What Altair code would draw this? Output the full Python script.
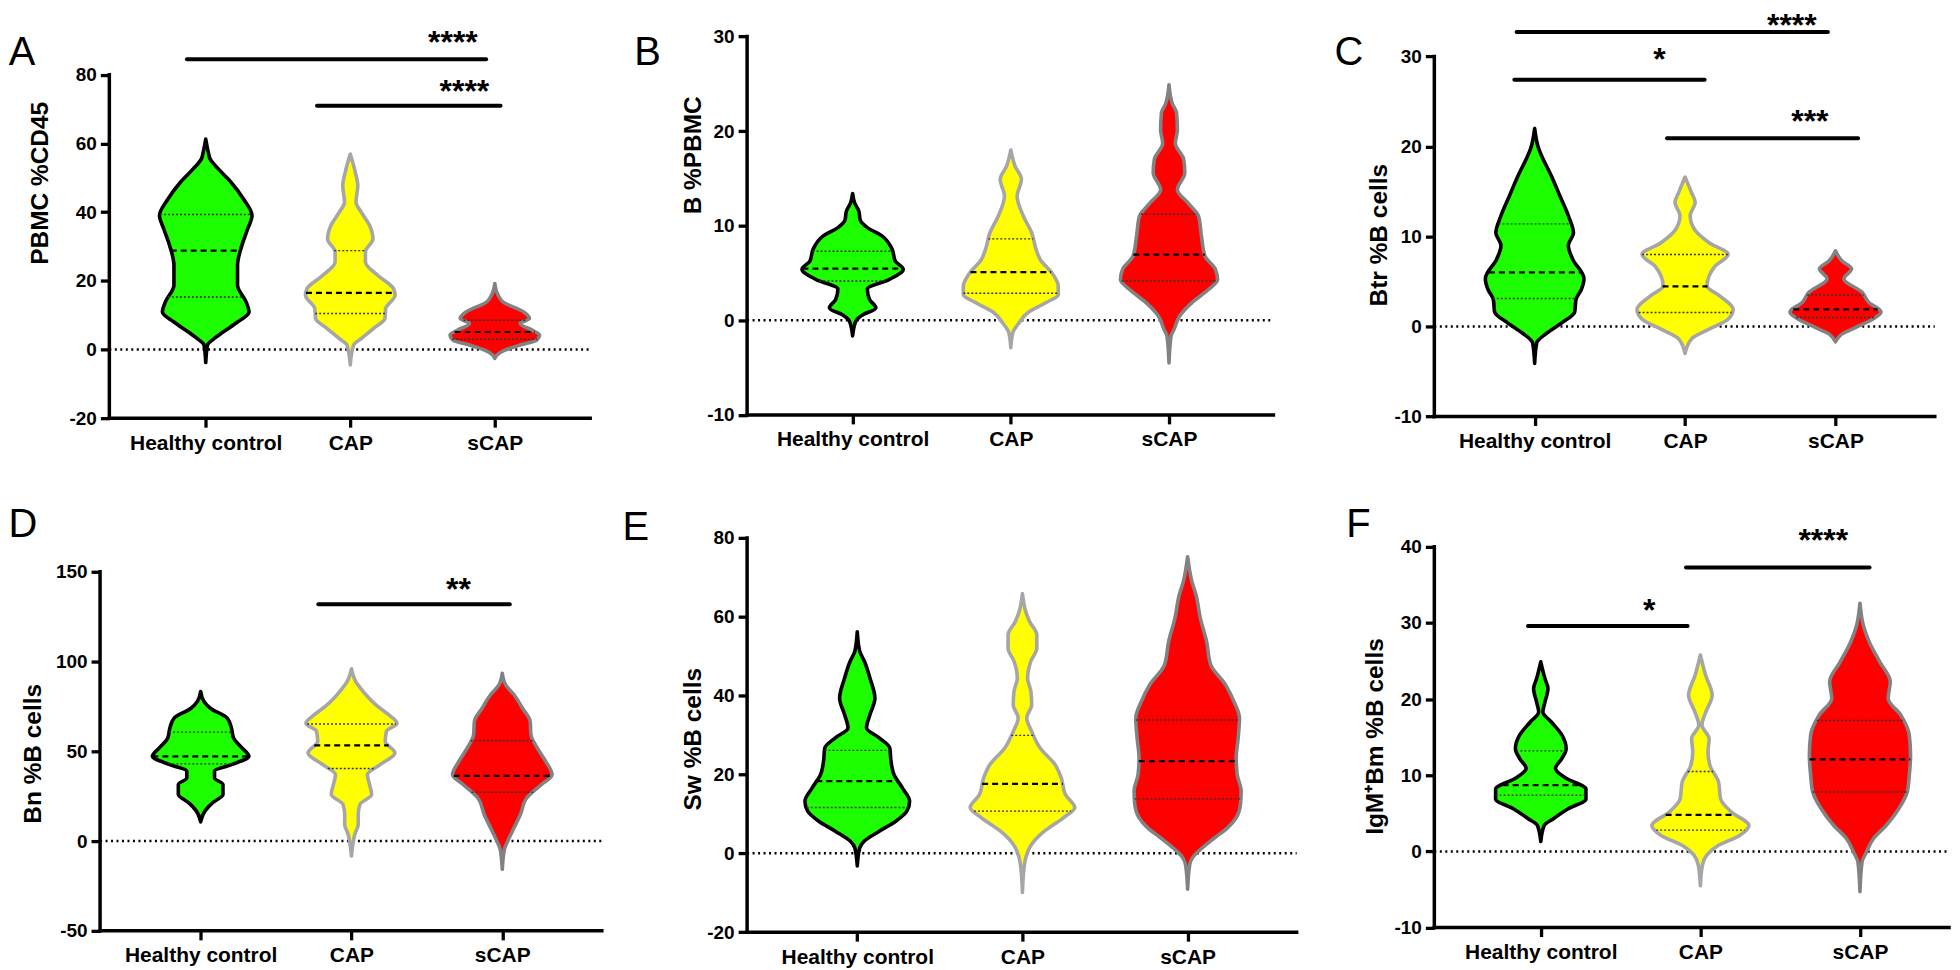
import altair as alt
import numpy as np
import pandas as pd

CATEGORIES = ["Healthy control", "CAP", "sCAP"]
FILL_COLORS = ["#1dff00", "#ffff00", "#ff0000"]
EDGE_COLORS = ["#000000", "#a6a6a6", "#828282"]
FONT = "Liberation Sans"

# Violin outlines: (value, half-width in category units)
# ---- A: PBMC %CD45
A_HC = [(-3.8, 0), (1.3, 0.012), (2.7, 0.044), (5.1, 0.12), (8, 0.22), (10.9, 0.30), (13.8, 0.28),
        (18.7, 0.22), (24.5, 0.22), (30.3, 0.25), (35.1, 0.29), (39, 0.32), (43.9, 0.26), (48.7, 0.175),
        (52.6, 0.087), (55.5, 0.03), (57.4, 0.018), (61.3, 0)]
A_CAP = [(-4.5, 0), (1.3, 0.023), (3.2, 0.076), (6.1, 0.16), (9, 0.24), (11.9, 0.245), (15.8, 0.31),
         (17.7, 0.30), (21.6, 0.19), (25.5, 0.105), (28.4, 0.105), (32.2, 0.157), (36.1, 0.134), (40, 0.076),
         (42.9, 0.04), (47.7, 0.052), (51.6, 0.035), (56.9, 0)]
A_SCAP = [(-2.6, 0), (-1.6, 0.015), (-0.2, 0.07), (1.3, 0.175), (2.7, 0.29), (4.2, 0.31), (5.6, 0.26),
          (7.6, 0.175), (9, 0.24), (10.9, 0.20), (13.8, 0.058), (15.8, 0.023), (19.2, 0)]
A_QUART = [(15.3, 28.8, 39.3), (10.5, 16.5, 28.8), (3.0, 5.1, 8.5)]
A_SIG = [(-0.13, 1.94, 84.5, "****", 1.71, 86.2), (0.77, 2.04, 71.0, "****", 1.79, 72.2)]

# ---- B: B %PBMC
B_HC = [(-1.65, 0), (-0.1, 0.02), (0.6, 0.067), (1.3, 0.147), (2.2, 0.107), (3.3, 0.093), (4.3, 0.23),
        (5.4, 0.32), (6.25, 0.27), (7.5, 0.25), (8.9, 0.187), (9.8, 0.093), (10.6, 0.048), (11.5, 0.04),
        (12.4, 0.013), (13.4, 0)]
B_CAP = [(-2.9, 0), (-1.3, 0.013), (-0.25, 0.053), (0.8, 0.107), (1.9, 0.227), (2.7, 0.30), (3.6, 0.30),
         (5, 0.26), (6.4, 0.187), (7.5, 0.16), (9.2, 0.133), (11, 0.08), (13.1, 0.04), (14.9, 0.067),
         (16.3, 0.027), (18, 0)]
B_SCAP = [(-4.5, 0), (-1.65, 0.013), (-0.95, 0.032), (0.45, 0.067), (1.9, 0.147), (3.3, 0.253), (4.3, 0.307),
          (5.4, 0.293), (6.8, 0.227), (8.9, 0.205), (11, 0.187), (12.4, 0.12), (13.8, 0.053), (15.6, 0.1),
          (17, 0.093), (18.7, 0.04), (20.1, 0.053), (21.9, 0.048), (22.9, 0.021), (24.9, 0)]
B_QUART = [(4.15, 5.45, 7.3), (2.85, 5.1, 8.6), (4.15, 6.95, 11.2)]
B_SIG = []

# ---- C: Btr %B cells
C_HC = [(-4.1, 0), (-1.8, 0.014), (-0.7, 0.084), (0.4, 0.18), (1.6, 0.266), (3, 0.275), (4.1, 0.31),
        (5.3, 0.328), (7.5, 0.252), (9, 0.224), (10.4, 0.258), (12.3, 0.224), (14.5, 0.168), (16.7, 0.112),
        (18.6, 0.056), (19.7, 0.028), (22, 0)]
C_CAP = [(-3, 0), (-1.4, 0.042), (-0.3, 0.16), (0.8, 0.286), (1.9, 0.32), (3.4, 0.23), (4.5, 0.146),
         (6.7, 0.2), (8, 0.286), (9.3, 0.16), (10.8, 0.062), (12.3, 0.034), (13.8, 0.067), (14.9, 0.042),
         (16.6, 0)]
C_SCAP = [(-1.7, 0), (-0.85, 0.042), (-0.1, 0.135), (0.8, 0.247), (1.6, 0.303), (2.7, 0.22), (3.8, 0.177),
          (5.3, 0.056), (6.4, 0.107), (7.3, 0.042), (8.4, 0)]
C_QUART = [(3.1, 6.0, 11.4), (1.55, 4.45, 8.0), (1.0, 1.9, 3.5)]
C_SIG = [(-0.12, 1.95, 32.7, "****", 1.71, 32.3), (-0.135, 1.13, 27.4, "*", 0.83, 28.5),
         (0.88, 2.15, 20.9, "***", 1.83, 21.65)]

# ---- D: Bn %B cells
D_HC = [(10.7, 0), (16.7, 0.028), (21.3, 0.078), (25.9, 0.148), (31.5, 0.148), (35.2, 0.092), (38.9, 0.092),
        (42.6, 0.204), (47.2, 0.32), (51.9, 0.274), (57.4, 0.218), (63, 0.204), (68.5, 0.176), (74, 0.064),
        (77.8, 0.022), (83.3, 0)]
D_CAP = [(-8.3, 0), (3.7, 0.022), (9.3, 0.045), (14.8, 0.045), (20.4, 0.056), (25.9, 0.134), (31.5, 0.12),
         (37, 0.106), (42.6, 0.19), (49.1, 0.288), (55.6, 0.224), (61.1, 0.232), (65.7, 0.302), (70.4, 0.246),
         (75.9, 0.162), (83.3, 0.078), (88.9, 0.028), (95.9, 0)]
D_SCAP = [(-15.7, 0), (-4.6, 0.014), (0, 0.036), (7.4, 0.078), (14.8, 0.12), (24, 0.162), (31.5, 0.26),
          (37, 0.33), (44.4, 0.288), (51.9, 0.232), (59.3, 0.19), (66.7, 0.185), (74, 0.134), (81.5, 0.078),
          (87, 0.022), (93.5, 0)]
D_QUART = [(43, 47.2, 60.7), (40.4, 53.3, 65.2), (27.2, 36.3, 55.9)]
D_SIG = [(0.78, 2.05, 131.9, "**", 1.71, 134.1)]

# ---- E: Sw %B cells
E_HC = [(-3.2, 0), (1.4, 0.015), (3.1, 0.043), (5.6, 0.133), (8.2, 0.235), (10.7, 0.30), (13.2, 0.317),
        (16.6, 0.273), (20, 0.222), (23.4, 0.204), (26.7, 0.197), (29.3, 0.133), (31.8, 0.056), (35.2, 0.077),
        (39.3, 0.107), (44.4, 0.077), (48.7, 0.043), (51.2, 0.015), (56.2, 0)]
E_CAP = [(-9.9, 0), (-3.6, 0.01), (-1.1, 0.02), (2.3, 0.056), (5.6, 0.133), (9, 0.248), (11.6, 0.317),
         (14.9, 0.26), (19.1, 0.235), (22.5, 0.197), (26.7, 0.107), (30.9, 0.056), (34.3, 0.026), (37.7, 0.056),
         (41.1, 0.051), (44.4, 0.031), (48.7, 0.051), (52, 0.087), (55.4, 0.087), (58.8, 0.043), (61.3, 0.02),
         (65.9, 0)]
E_SCAP = [(-9.1, 0), (-2.8, 0.013), (-1.1, 0.03), (1.4, 0.089), (4, 0.166), (6.5, 0.243), (9, 0.294),
          (12.4, 0.32), (15.8, 0.324), (20, 0.30), (24.2, 0.294), (29.3, 0.306), (34.3, 0.314), (38.5, 0.28),
          (42.7, 0.23), (47.8, 0.14), (53.7, 0.115), (59.6, 0.077), (65.5, 0.051), (68.9, 0.026), (75.2, 0)]
E_QUART = [(11.6, 18.3, 26.1), (10.7, 17.6, 29.9), (13.8, 23.4, 33.8)]
E_SIG = []

# ---- F: IgM+Bm %B cells
F_HC = [(1.3, 0), (3.4, 0.021), (4.3, 0.079), (5.6, 0.172), (6.9, 0.283), (8.2, 0.283), (9.6, 0.159),
        (10.9, 0.092), (12.2, 0.132), (13.5, 0.159), (15.3, 0.132), (17, 0.066), (18.3, 0.013), (19.6, 0.026),
        (21.4, 0.045), (22.7, 0.026), (24.9, 0)]
F_CAP = [(-4.5, 0), (-1.8, 0.013), (-0.5, 0.04), (0.8, 0.114), (2.1, 0.246), (3.4, 0.304), (5.2, 0.193),
         (6.9, 0.127), (9.1, 0.114), (11.3, 0.06), (13.1, 0.048), (14.8, 0.055), (16.6, 0.01), (18.3, 0.034),
         (20.5, 0.074), (23.2, 0.032), (25.8, 0)]
F_SCAP = [(-5.3, 0), (-1.4, 0.013), (-0.1, 0.04), (1.7, 0.085), (3.4, 0.164), (5.6, 0.243), (7.8, 0.296),
          (10, 0.309), (12.6, 0.317), (15.3, 0.309), (17.9, 0.256), (20.1, 0.177), (22.3, 0.19), (24.9, 0.124),
          (27.5, 0.058), (29.7, 0.021), (32.6, 0)]
F_QUART = [(7.4, 8.7, 13.2), (2.8, 4.8, 10.5), (7.8, 12.1, 17.2)]
F_SIG = [(-0.08, 0.92, 29.6, "*", 0.68, 30.2), (0.91, 2.06, 37.3, "****", 1.77, 39.5)]

PANELS = [
    dict(letter="A", title="PBMC %CD45", ticks=[-20, 0, 20, 40, 60, 80], violins=[A_HC, A_CAP, A_SCAP], quart=A_QUART, sig=A_SIG),
    dict(letter="B", title="B %PBMC", ticks=[-10, 0, 10, 20, 30], violins=[B_HC, B_CAP, B_SCAP], quart=B_QUART, sig=B_SIG),
    dict(letter="C", title="Btr %B cells", ticks=[-10, 0, 10, 20, 30], violins=[C_HC, C_CAP, C_SCAP], quart=C_QUART, sig=C_SIG),
    dict(letter="D", title="Bn %B cells", ticks=[-50, 0, 50, 100, 150], violins=[D_HC, D_CAP, D_SCAP], quart=D_QUART, sig=D_SIG),
    dict(letter="E", title="Sw %B cells", ticks=[-20, 0, 20, 40, 60, 80], violins=[E_HC, E_CAP, E_SCAP], quart=E_QUART, sig=E_SIG),
    dict(letter="F", title="IgM\u207aBm %B cells", ticks=[-10, 0, 10, 20, 30, 40], violins=[F_HC, F_CAP, F_SCAP], quart=F_QUART, sig=F_SIG),
]

# Category axis runs from AXIS_LO to AXIS_HI (category units)
AXIS_LO, AXIS_HI = -0.667, 2.66

# Pixel geometry of each panel (layout only)
TOP0 = 10
ROW_LEFT = 99
COL_GAP = 30
ROW_GAP = 84
GEOM = [
    dict(ax=108.6, sp=144.9, ytop=71.7, ybot=416.0, letter=(21, 62), title=(46.5, 180)),
    dict(ax=736.7, sp=158.6, ytop=33.3, ybot=412.7, letter=(637, 62), title=(690, 152)),
    dict(ax=1425.7, sp=150.8, ytop=53.3, ybot=414.3, letter=(1340, 62), title=(1378, 232)),
    dict(ax=99.3, sp=151.2, ytop=570.0, ybot=930.0, letter=(22, 535), title=(40, 752)),
    dict(ax=747.7, sp=165.6, ytop=532.7, ybot=928.0, letter=(636, 535), title=(701, 734)),
    dict(ax=1428.0, sp=160.0, ytop=543.3, ybot=925.0, letter=(1352, 533), title=(1376, 733)),
]
RIGHT_EDGE = [1930, 1944]


def panel_chart(idx):
    p, g = PANELS[idx], GEOM[idx]
    row = idx // 3
    col = idx % 3
    left = ROW_LEFT if col == 0 else g["ax"]
    right = RIGHT_EDGE[row] if col == 2 else GEOM[idx + 1]["ax"] - COL_GAP
    width = right - left
    top = TOP0 if row == 0 else GEOM[idx - 3]["ybot"] + ROW_GAP
    height = g["ybot"] - top

    ticks = p["ticks"]
    ymin, ymax = min(ticks), max(ticks)
    ppu = (g["ybot"] - g["ytop"]) / (ymax - ymin)
    ydom = [ymin, ymin + height / ppu]
    cat0 = g["ax"] - AXIS_LO * g["sp"]
    xdom = [(left - cat0) / g["sp"], (right - cat0) / g["sp"]]
    xhi = min(AXIS_HI, xdom[1])

    xs = alt.Scale(domain=xdom, nice=False, zero=False)
    ys = alt.Scale(domain=ydom, nice=False, zero=False)

    label_expr = "[" + ",".join("'%s'" % c for c in CATEGORIES) + "][datum.value]"
    xaxis = alt.Axis(values=[0, 1, 2], domain=False, grid=False, tickSize=9, tickWidth=3.3, tickColor="black",
                     labelExpr=label_expr, labelFont=FONT, labelFontSize=21, labelFontWeight="bold",
                     labelColor="black", labelPadding=5, labelFlush=False, labelOverlap=False, title=None)
    yaxis = alt.Axis(values=ticks, domain=False, grid=False, tickSize=9, tickWidth=3.3, tickColor="black",
                     labelExpr="datum.value + ''", labelFont=FONT, labelFontSize=19, labelFontWeight="bold",
                     labelColor="black", labelPadding=4, labelFlush=False, labelOverlap=False,
                     offset=-(g["ax"] - left),
                     title=p["title"], titleFont=FONT, titleFontSize=24.5, titleFontWeight="bold",
                     titleColor="black", titleAngle=270, titleAlign="center", titleBaseline="alphabetic",
                     titleX=g["title"][0] - g["ax"], titleY=g["title"][1] - top)

    X = lambda f: alt.X(f, type="quantitative", scale=xs, axis=xaxis)
    Y = lambda f: alt.Y(f, type="quantitative", scale=ys, axis=yaxis)

    vrows, qrows = [], []
    for i, (cat, outline, qs) in enumerate(zip(CATEGORIES, p["violins"], p["quart"])):
        for v, w in outline:
            vrows.append(dict(group=cat, v=v, x1=i - w, x2=i + w))
        vs = [o[0] for o in outline]
        ws = [o[1] for o in outline]
        for j, q in enumerate(qs):
            w = float(np.interp(q, vs, ws))
            qrows.append(dict(kind="median" if j == 1 else "quartile", v=q, x1=i - w, x2=i + w))
    vdf = pd.DataFrame(vrows)
    qdf = pd.DataFrame(qrows)

    zero = alt.Chart(pd.DataFrame([dict(x1=AXIS_LO, x2=xhi, v=0)])).mark_rule(
        color="black", strokeWidth=2.5, strokeDash=[2, 3.5]).encode(x=X("x1"), x2="x2", y=Y("v"))

    area = alt.Chart(vdf).mark_area(orient="horizontal", interpolate="monotone", strokeWidth=3.6,
                                    strokeJoin="round").encode(
        y=Y("v"), x=X("x1"), x2="x2",
        fill=alt.Fill("group:N", scale=alt.Scale(domain=CATEGORIES, range=FILL_COLORS), legend=None),
        stroke=alt.Stroke("group:N", scale=alt.Scale(domain=CATEGORIES, range=EDGE_COLORS), legend=None))

    quart = alt.Chart(qdf[qdf.kind == "quartile"]).mark_rule(color="#333333", strokeWidth=1.4,
                                                            strokeDash=[2, 2]).encode(
        x=X("x1"), x2="x2", y=Y("v"))
    med = alt.Chart(qdf[qdf.kind == "median"]).mark_rule(color="black", strokeWidth=2.2,
                                                        strokeDash=[6, 4]).encode(
        x=X("x1"), x2="x2", y=Y("v"))

    yline = alt.Chart(pd.DataFrame([dict(x1=AXIS_LO, v=ymin, v2=ymax)])).mark_rule(
        color="black", strokeWidth=3.5, strokeCap="square").encode(x=X("x1"), y=Y("v"), y2="v2")
    xline = alt.Chart(pd.DataFrame([dict(x1=AXIS_LO, x2=xhi, v=ymin)])).mark_rule(
        color="black", strokeWidth=3.5, strokeCap="square").encode(x=X("x1"), x2="x2", y=Y("v"))

    lx = (g["letter"][0] - cat0) / g["sp"]
    ly = ymin + (g["ybot"] - g["letter"][1]) / ppu
    letter = alt.Chart(pd.DataFrame([dict(x1=lx, v=ly, t=p["letter"])])).mark_text(
        font=FONT, fontSize=40, fontWeight="normal", align="center", baseline="alphabetic", color="black").encode(
        x=X("x1"), y=Y("v"), text="t:N")

    layers = [zero, area, quart, med, yline, xline, letter]

    if p["sig"]:
        sdf = pd.DataFrame([dict(x1=s[0], x2=s[1], v=s[2], t=s[3], tx=s[4], ty=s[5]) for s in p["sig"]])
        bars = alt.Chart(sdf).mark_rule(color="black", strokeWidth=4, strokeCap="round").encode(
            x=X("x1"), x2="x2", y=Y("v"))
        stars = alt.Chart(sdf).mark_text(font=FONT, fontSize=32, fontWeight="bold", align="center",
                                         baseline="alphabetic", color="black").encode(
            x=X("tx"), y=Y("ty"), text="t:N")
        layers += [bars, stars]

    return alt.layer(*layers).properties(width=width, height=height)


chart = alt.concat(*[panel_chart(i) for i in range(6)], columns=3, align="none", bounds="flush",
                   spacing={"row": ROW_GAP, "column": COL_GAP}).properties(
    padding={"left": 0, "top": 0, "right": 0, "bottom": 0}, background="white"
).configure_view(stroke=None)

chart.save("out.html", embed_options={"renderer": "svg", "actions": False})
